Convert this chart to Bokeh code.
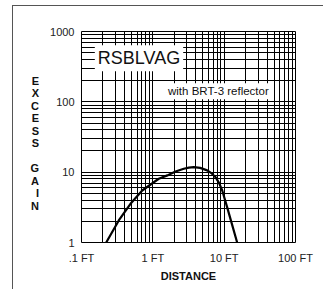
from bokeh.plotting import figure
from bokeh.models import Range1d, FixedTicker, Label, InlineStyleSheet
from bokeh.embed import file_html
from bokeh.resources import INLINE

# ---- data ----
distance_ft = [0.222, 0.333, 0.486, 0.71, 1.21, 1.6, 2.08, 2.72, 3.2, 3.75,
               4.6, 5.78, 6.7, 7.57, 8.5, 9.4, 11.0, 13.0, 15.2]
excess_gain = [1.0, 2.06, 3.55, 5.49, 8.06, 9.0, 10.2, 11.2, 11.6, 11.8,
               11.5, 10.6, 9.6, 8.49, 7.0, 5.49, 3.18, 1.75, 1.0]

x_ticks = [0.1, 1, 10, 100]
x_tick_labels = [".1 FT", "1 FT", "10 FT", "100 FT"]
y_ticks = [1, 10, 100, 1000]
y_tick_labels = ["1", "10", "100", "1000"]
multiples = [2, 3, 4, 5, 6, 7, 8, 9]

x_minor = [m * t for t in x_ticks[:-1] for m in multiples]
y_minor = [m * t for t in y_ticks[:-1] for m in multiples]

FONT = "Liberation Sans"

p = figure(width=331, height=289, x_axis_type="log", y_axis_type="log",
           x_range=Range1d(0.1, 100), y_range=Range1d(1, 1000),
           output_backend="svg", toolbar_location=None,
           min_border_left=81, min_border_right=36,
           min_border_top=31, min_border_bottom=47)
p.outline_line_color = "black"
p.outline_line_width = 1

p.xaxis.ticker = FixedTicker(ticks=x_ticks, minor_ticks=x_minor)
p.yaxis.ticker = FixedTicker(ticks=y_ticks, minor_ticks=y_minor)
p.xaxis.major_label_overrides = dict(zip(x_ticks, x_tick_labels))
p.yaxis.major_label_overrides = dict(zip(y_ticks, y_tick_labels))

for ax in (p.xaxis, p.yaxis):
    ax.axis_line_color = None
    ax.major_tick_in = 0
    ax.major_tick_out = 0
    ax.minor_tick_in = 0
    ax.minor_tick_out = 0
    ax.major_label_text_font = FONT
    ax.major_label_text_font_size = "11px"
    ax.major_label_text_color = "#222222"
    ax.axis_label_text_font = FONT
    ax.axis_label_text_font_size = "11px"
    ax.axis_label_text_font_style = "bold"
    ax.axis_label_text_color = "#111111"
p.xaxis.major_label_standoff = 9
p.yaxis.major_label_standoff = 7

p.xaxis.axis_label = "DISTANCE"
p.xaxis.axis_label_standoff = 3

p.yaxis.axis_label = "\nE\nX\nC\nE\nS\nS\n\nG\nA\nI\nN"
p.yaxis.axis_label_orientation = "horizontal"
p.yaxis.axis_label_text_line_height = 1.04
p.yaxis.axis_label_standoff = 8

for g in (p.xgrid, p.ygrid):
    g.grid_line_color = "black"
    g.grid_line_width = 1
    g.minor_grid_line_color = "black"
    g.minor_grid_line_width = 1

p.line(distance_ft, excess_gain, line_color="black", line_width=2.2)

p.add_layout(Label(x=0.64, y=418, text="RSBLVAG", text_font=FONT,
                   text_font_size="18px", text_color="#111111",
                   text_align="center", text_baseline="middle",
                   background_fill_color="white", padding=3))
p.add_layout(Label(x=8.3, y=141, text="with BRT-3 reflector", text_font=FONT,
                   text_font_size="11.5px", text_color="#111111",
                   text_align="center", text_baseline="middle",
                   background_fill_color="white", padding=2))

# page frame (top and left rules of the surrounding box)
p.stylesheets = [InlineStyleSheet(css="""
:host { position: relative; }
:host::after {
  content: ""; position: absolute; left: 12px; top: 5px;
  width: 310px; height: 400px;
  border-top: 1px solid #555555; border-left: 1px solid #555555;
  pointer-events: none;
}
""")]

open("out.html", "w").write(file_html(p, INLINE))
